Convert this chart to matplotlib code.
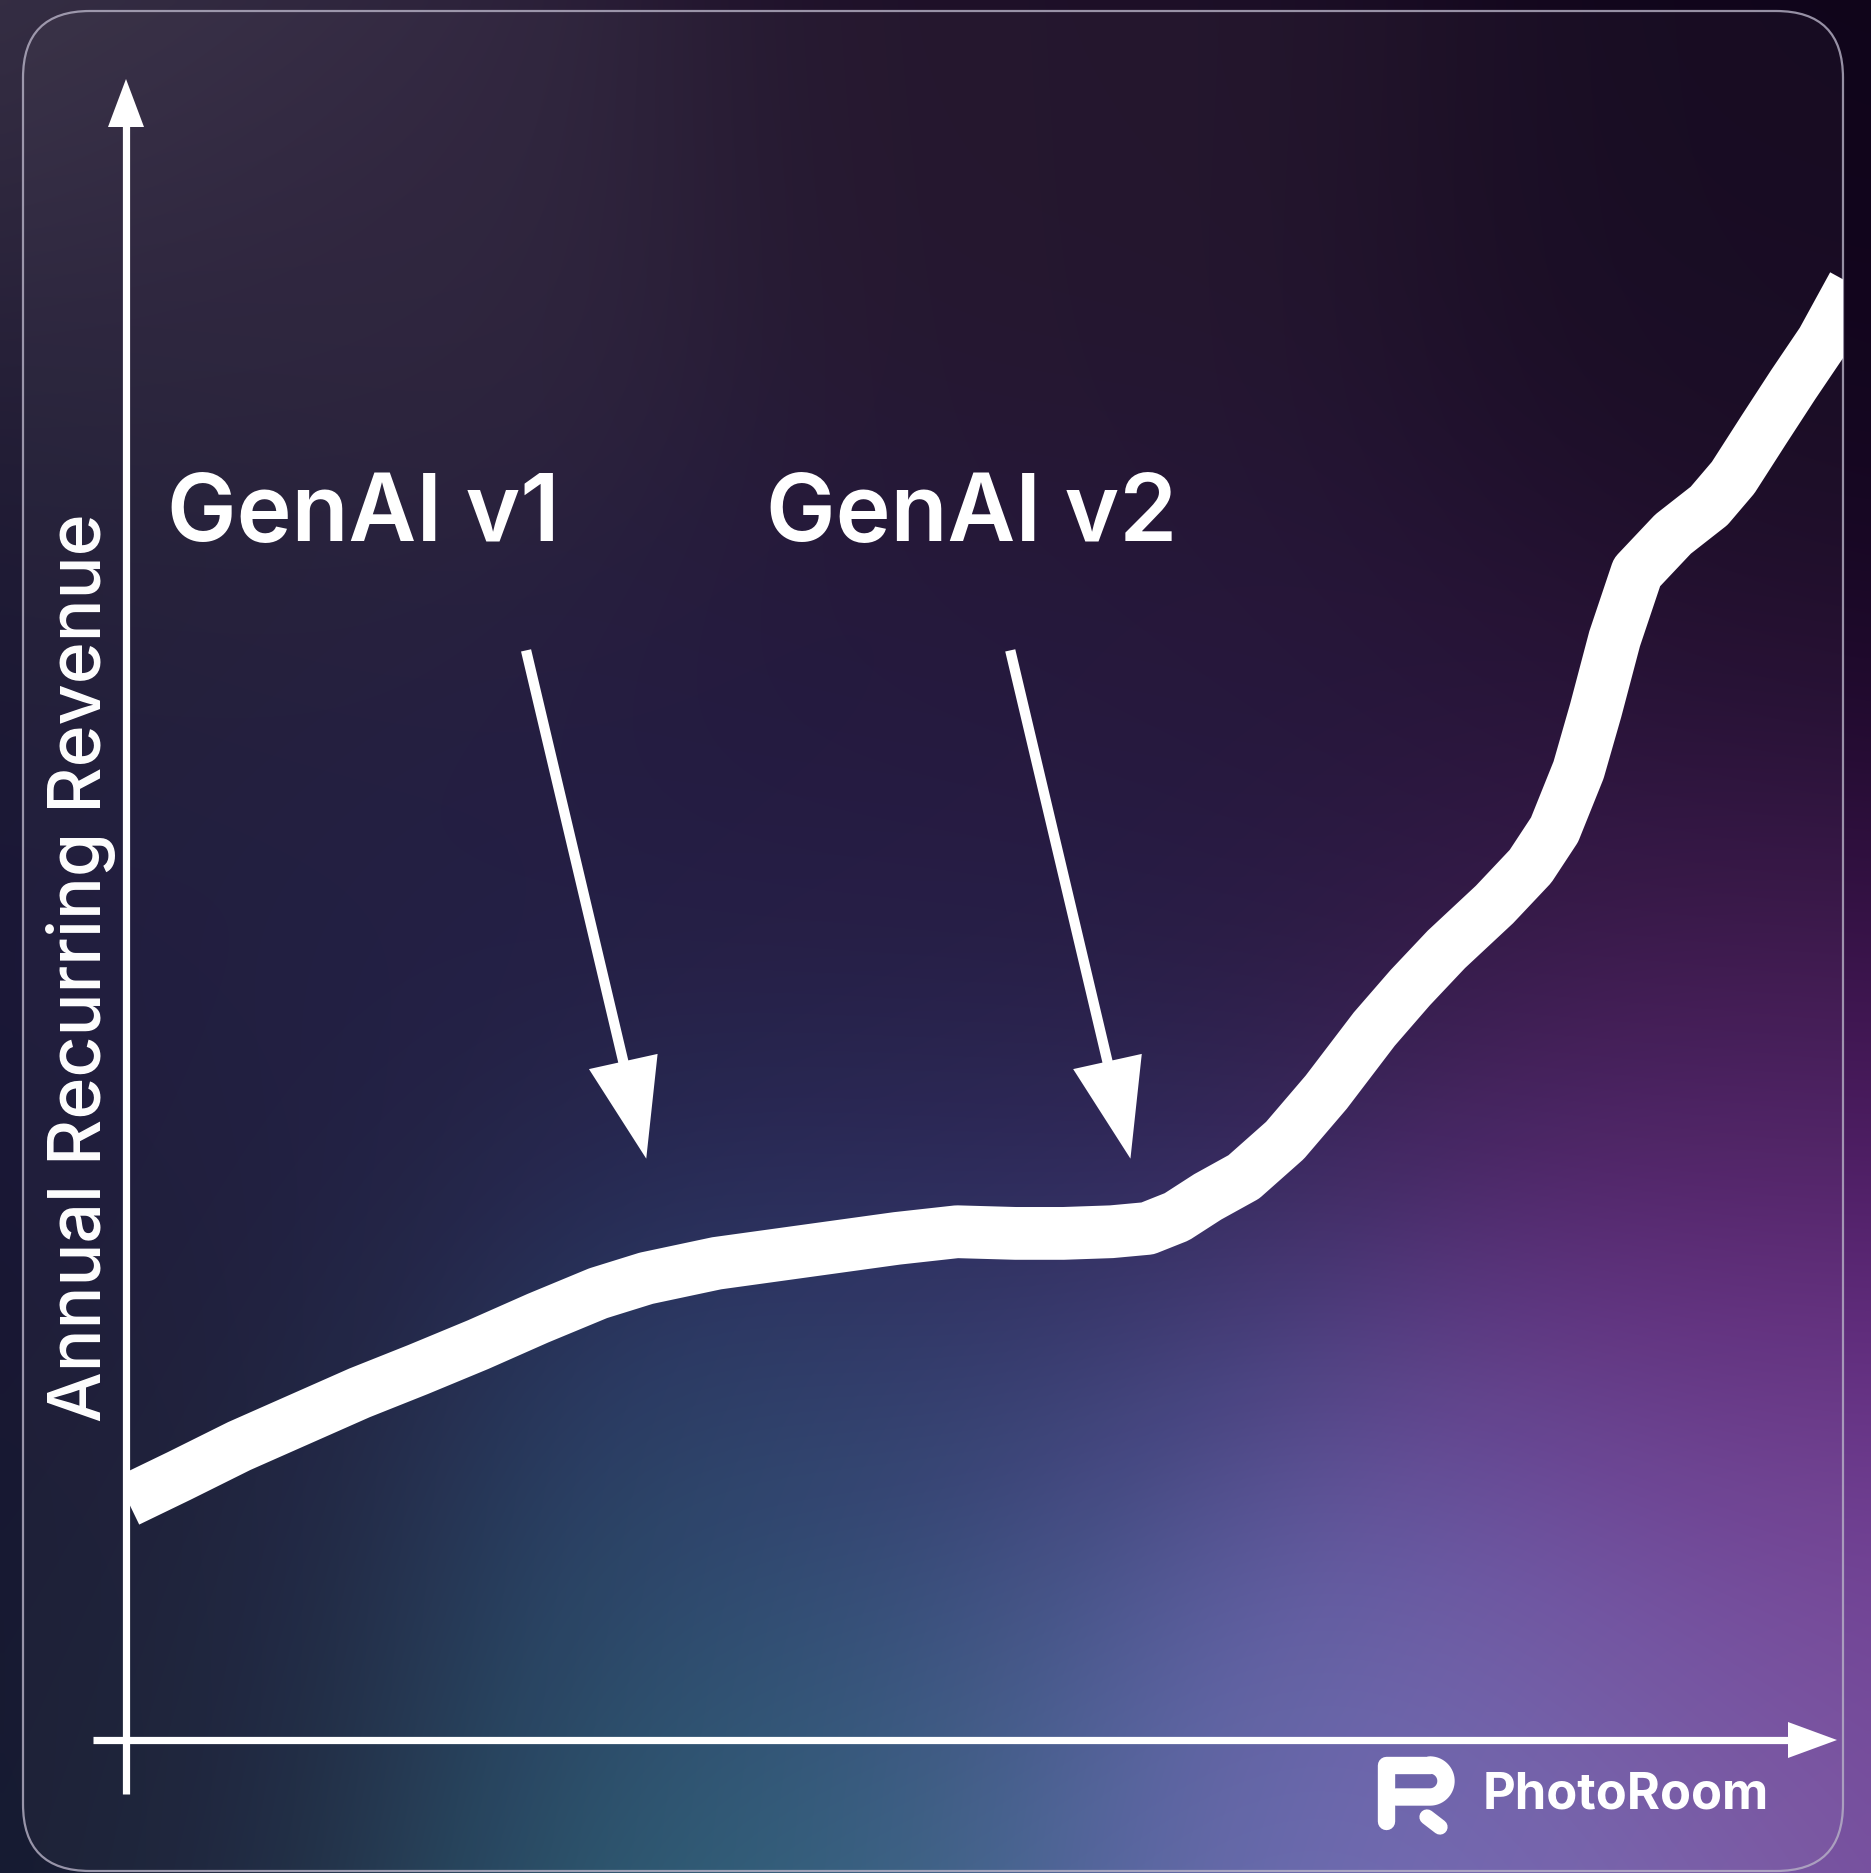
import numpy as np
import matplotlib
matplotlib.use("Agg")
import matplotlib.pyplot as plt
from matplotlib.patches import FancyBboxPatch, Polygon
from matplotlib.colors import to_rgb

# revenue curve (arbitrary units, time on x 0..100, ARR on y 0..100)
time_pts = [0.1, 3.1, 6.6, 10.1, 13.6, 17.0, 20.5, 24.0, 27.5, 30.3, 34.4, 37.9,
            41.4, 44.9, 48.4, 51.8, 54.6, 57.4, 59.5, 61.2, 63.0, 65.1, 67.5,
            69.9, 72.7, 74.8, 76.9, 79.7, 81.8, 83.2, 84.6, 85.6, 86.7, 88.0,
            90.1, 92.2, 93.6, 95.4, 97.1, 98.8, 100.6]
arr_pts = [14.4, 15.9, 17.7, 19.3, 20.9, 22.3, 23.8, 25.4, 26.9, 27.8, 28.7, 29.2,
           29.7, 30.2, 30.6, 30.5, 30.5, 30.6, 30.8, 31.5, 32.7, 33.9, 36.1,
           39.0, 42.8, 45.3, 47.6, 50.3, 52.6, 54.8, 58.4, 62.0, 66.3, 70.3,
           72.6, 74.3, 76.0, 78.9, 81.6, 84.2, 87.6]

releases = ["GenAI v1", "GenAI v2"]
release_x = [30.3, 58.5]
label_x = [2.4, 37.3]

W, H = 1871, 1874
fig = plt.figure(figsize=(W / 100, H / 100), dpi=100)

# background axes in pixel units
bg = fig.add_axes([0, 0, 1, 1])
bg.set_xlim(0, W)
bg.set_ylim(H, 0)
bg.axis("off")

# soft gradient from a handful of colour anchors
anchors = [
    ((0, 0), "#3a3448"), ((300, 260), "#2a1e38"), ((1100, 150), "#1e1028"),
    ((1800, 150), "#10051a"), ((1800, 550), "#140620"), ((0, 550), "#1a1830"),
    ((300, 1000), "#1c1840"), ((900, 900), "#1c1238"), ((1300, 800), "#201035"),
    ((1750, 1000), "#3a1248"), ((1690, 1360), "#6a2a88"), ((710, 1510), "#263a68"),
    ((1050, 1300), "#2c2a62"), ((760, 1830), "#2a6878"), ((1260, 1710), "#6068b0"),
    ((1500, 1820), "#7a70b8"), ((1850, 1750), "#7a4a98"), ((200, 1700), "#161a30"),
    ((80, 1300), "#181630"),
]
gx, gy = np.meshgrid(np.linspace(0, W, 240), np.linspace(0, H, 240))
num = np.zeros(gx.shape + (3,))
den = np.zeros(gx.shape)
for (ax_, ay_), c in anchors:
    w = np.exp(-((gx - ax_) ** 2 + (gy - ay_) ** 2) / (2 * 260.0 ** 2))
    num += w[..., None] * np.array(to_rgb(c))
    den += w
img = np.clip(num / den[..., None], 0, 1)
bg.imshow(img, extent=(0, W, H, 0), interpolation="bilinear", zorder=0)

card = FancyBboxPatch((23 + 67, 12 + 67), 1843 - 23 - 134, 1872 - 12 - 134,
                      boxstyle="round,pad=67", fc=(1, 1, 1, 0.03),
                      ec=(0.72, 0.70, 0.78, 0.8), lw=1.6, zorder=1)
bg.add_patch(card)

# axis arrows
bg.plot([126, 126], [1795, 120], color="white", lw=5.2, solid_capstyle="butt", zorder=3)
bg.add_patch(Polygon([[108, 128], [144, 128], [126, 80]], closed=True, fc="white", ec="none", zorder=3))
bg.plot([93, 1795], [1741, 1741], color="white", lw=5.2, solid_capstyle="butt", zorder=3)
bg.add_patch(Polygon([[1788, 1723], [1788, 1759], [1837, 1741]], closed=True, fc="white", ec="none", zorder=3))

bg.text(81, 968, "Annual Recurring Revenue", rotation=90, ha="center", va="center",
        color="white", fontsize=51.5, family="Inter", fontweight="medium", zorder=4)

# PhotoRoom logo
bg.plot([1386, 1386, 1430], [1822, 1766, 1766], color="white", lw=12.5,
        solid_capstyle="round", solid_joinstyle="round", zorder=4)
t = np.linspace(-np.pi / 2, np.pi / 2, 30)
bg.plot(np.r_[1430, 1430 + 16 * np.cos(t), 1396], np.r_[1766, 1782 + 16 * np.sin(t), 1798],
        color="white", lw=12.5, solid_capstyle="round", solid_joinstyle="round", zorder=4)
bg.plot([1427, 1440], [1818, 1828], color="white", lw=11, solid_capstyle="round", zorder=4)
bg.text(1483, 1795, "PhotoRoom", ha="left", va="center", color="white",
        fontsize=36.5, family="Inter", fontweight="bold", zorder=4)

# data axes
ax = fig.add_axes([126 / W, 1 - 1741 / H, (1843 - 126) / W, (1741 - 80) / H])
ax.set_xlim(0, 100)
ax.set_ylim(0, 100)
ax.patch.set_alpha(0)
ax.axis("off")

ax.plot(time_pts, arr_pts, color="white", lw=38, solid_capstyle="butt",
        solid_joinstyle="round", zorder=5)

for name, rx, tx in zip(releases, release_x, label_x):
    ax.arrow(rx - 7.0, 65.6, 7.0, -30.6, width=0.6, head_width=4.1, head_length=6.0,
             length_includes_head=True, fc="white", ec="none", lw=0, zorder=6)
    ax.text(tx, 73.7, name, ha="left", va="center", color="white",
            fontsize=67, family="Inter", fontweight="semibold", zorder=6)

fig.savefig("out.png", dpi=100)
